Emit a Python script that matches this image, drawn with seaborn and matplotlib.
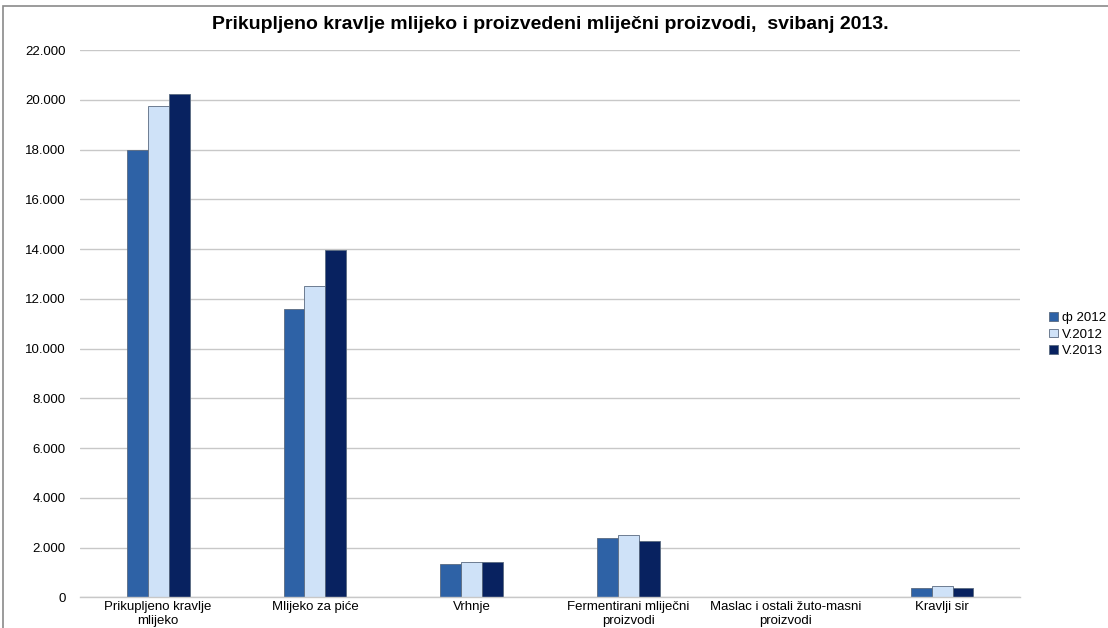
import numpy as np
import pandas as pd
import matplotlib
matplotlib.use('Agg')
import matplotlib.pyplot as plt
import seaborn as sns
from matplotlib.patches import Rectangle
from matplotlib.ticker import FuncFormatter

# ── Data ─────────────────────────────────────────────────────────────────────
categories = ['Prikupljeno kravlje\nmlijeko', 'Mlijeko za piće', 'Vrhnje',
              'Fermentirani mliječni\nproizvodi', 'Maslac i ostali žuto-masni\nproizvodi',
              'Kravlji sir']
series = ['ф 2012', 'V.2012', 'V.2013']
avg_2012 = [18000, 11600, 1350, 2390, 0, 380]
may_2012 = [19750, 12500, 1420, 2490, 0, 440]
may_2013 = [20250, 13950, 1430, 2260, 0, 360]
colors = ['#2E62A6', '#CFE2F8', '#082260']
yticks = list(range(0, 22001, 2000))

df = pd.DataFrame({
    'kategorija': categories * 3,
    'serija': np.repeat(series, len(categories)),
    'vrijednost': avg_2012 + may_2012 + may_2013,
})

sns.set_theme(style='white')
plt.rcParams['font.family'] = ['Liberation Sans', 'DejaVu Sans']
plt.rcParams['text.color'] = 'black'

fig = plt.figure(figsize=(11.08, 6.28), dpi=100)
ax = fig.add_axes([0.072, 0.049, 0.849, 0.871])

sns.barplot(data=df, x='kategorija', y='vrijednost', hue='serija',
            palette=colors, saturation=1, width=0.4, gap=0.0, ax=ax,
            edgecolor='#5a6a80', linewidth=0.6, legend=True)

ax.set_ylim(0, 22000)
ax.set_xlim(-0.5, len(categories) - 0.5)
ax.set_yticks(yticks)
ax.yaxis.set_major_formatter(FuncFormatter(lambda v, _: f'{int(v):,}'.replace(',', '.')))
ax.yaxis.grid(True, color='#c8c8c8', linewidth=1.0)
ax.set_axisbelow(True)
ax.tick_params(axis='both', labelsize=9.5, colors='black', length=0)
ax.tick_params(axis='y', pad=10)
ax.tick_params(axis='x', pad=3)
ax.set_xlabel('')
ax.set_ylabel('')
for s in ['top', 'right', 'left']:
    ax.spines[s].set_visible(False)
ax.spines['bottom'].set_color('#c8c8c8')
ax.spines['bottom'].set_linewidth(1.0)

ax.set_title('Prikupljeno kravlje mlijeko i proizvedeni mliječni proizvodi,  svibanj 2013.',
             fontsize=14, fontweight='bold', pad=15, color='black')

handles, labels = ax.get_legend_handles_labels()
ax.legend(handles, labels, loc='center left', bbox_to_anchor=(1.018, 0.48),
          frameon=False, fontsize=9.5, handlelength=0.65, handleheight=0.65,
          handletextpad=0.3, labelspacing=0.35)

# outer frame of the chart
fig.patches.append(Rectangle((0.003, -0.01), 1.2, 1.0, transform=fig.transFigure,
                             fill=False, edgecolor='#8a8a8a', linewidth=1.2))

fig.savefig('out.png', dpi=100)
